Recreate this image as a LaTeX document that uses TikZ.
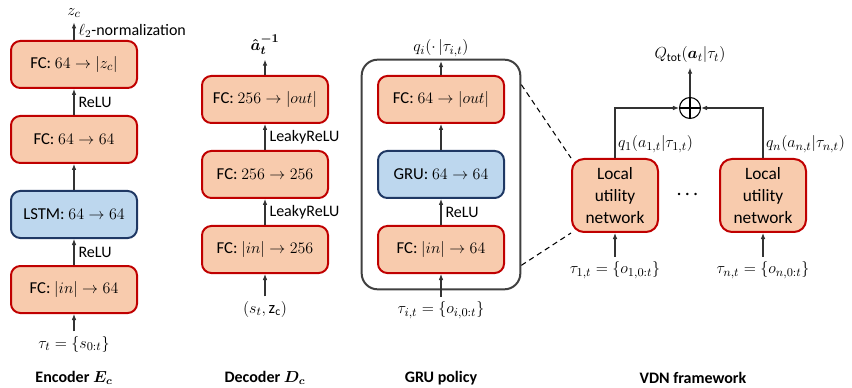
\documentclass[tikz,border=0pt]{standalone}
\usepackage{amsmath,amssymb}
\usepackage{fontspec}
\setmainfont{Carlito}
\usetikzlibrary{positioning,arrows.meta,fit}
\definecolor{FcFill}{HTML}{F8CBAD}
\definecolor{FcLine}{HTML}{C00000}
\definecolor{RnnFill}{HTML}{BDD7EE}
\definecolor{RnnLine}{HTML}{1F3864}
\definecolor{FrameGray}{HTML}{404040}
\tikzset{
  fcbox/.style={draw=FcLine, fill=FcFill, line width=1.5pt, rounded corners=7pt,
    minimum width=94.5pt, minimum height=35.25pt, align=center},
  rnnbox/.style={fcbox, draw=RnnLine, fill=RnnFill},
  localbox/.style={fcbox, minimum width=64.5pt, minimum height=54.75pt,
    rounded corners=9pt, font=\fontsize{13}{16.5}\selectfont},
  arr/.style={-{Latex[length=4.5pt,width=3.5pt]}, draw=black!80, line width=0.8pt},
  lbl/.style={font=\fontsize{12}{14}\selectfont, inner sep=3pt},
  caption/.style={font=\fontsize{12}{14}\selectfont\bfseries},
}

\begin{document}
\begin{tikzpicture}[x=0.75pt, y=-0.75pt, font=\fontsize{12.5}{15}\selectfont, node distance=19.5pt]
  \useasboundingbox (0,0) rectangle (852,388);

  % encoder
  \node[fcbox] (enc1) at (74,289.5) {FC: $|in| \to 64$};
  \node[rnnbox, above=of enc1] (enc2) {LSTM: $64 \to 64$};
  \node[fcbox, above=of enc2] (enc3) {FC: $64 \to 64$};
  \node[fcbox, above=of enc3] (enc4) {FC: $64 \to |z_c|$};
  \node (encin) at (74,344) {$\tau_t = \{s_{0:t}\}$};
  \node (zc) at (74,13) {$z_c$};
  \draw[arr] (encin) -- (enc1);
  \draw[arr] (enc1) -- node[lbl, right] {ReLU} (enc2);
  \draw[arr] (enc2) -- (enc3);
  \draw[arr] (enc3) -- node[lbl, right] {ReLU} (enc4);
  \draw[arr] (enc4) -- node[lbl, right] {$\ell_2$-normalization} (zc);
  \node[caption] at (74,378) {Encoder $\boldsymbol{E_c}$};

  % decoder
  \node[fcbox] (dec1) at (265,249.5) {FC: $|in| \to 256$};
  \node[fcbox, above=of dec1] (dec2) {FC: $256 \to 256$};
  \node[fcbox, above=of dec2] (dec3) {FC: $256 \to |out|$};
  \node (decin) at (265,309) {$(s_t, \mathrm{z_c})$};
  \node (ahat) at (265,45) {$\boldsymbol{\hat{a}_t^{-1}}$};
  \draw[arr] (decin) -- (dec1);
  \draw[arr] (dec1) -- node[lbl, right] {LeakyReLU} (dec2);
  \draw[arr] (dec2) -- node[lbl, right] {LeakyReLU} (dec3);
  \draw[arr] (dec3) -- (ahat);
  \node[caption] at (265,378) {Decoder $\boldsymbol{D_c}$};

  % gru policy
  \node[fcbox] (gru1) at (441,249.5) {FC: $|in| \to 64$};
  \node[rnnbox, above=of gru1] (gru2) {GRU: $64 \to 64$};
  \node[fcbox, above=of gru2] (gru3) {FC: $64 \to |out|$};
  \node[draw=FrameGray, line width=1.5pt, rounded corners=12pt, inner sep=11.5pt,
        fit=(gru1)(gru3)] (policy) {};
  \node (gruin) at (441,310) {$\tau_{i,t} = \{o_{i,0:t}\}$};
  \node (qi) at (441,48) {$q_i(\cdot\,|\tau_{i,t})$};
  \draw[arr] (gruin) -- (gru1);
  \draw[arr] (gru1) -- node[lbl, right] {ReLU} (gru2);
  \draw[arr] (gru2) -- (gru3);
  \draw[arr] (gru3) -- (qi);
  \node[caption] at (441,378) {GRU policy};

  % vdn
  \node[localbox] (local1) at (615,195.5) {Local\\utility\\network};
  \node[localbox] (localn) at (763,195.5) {Local\\utility\\network};
  \node (dots) at (689,195) {$\boldsymbol{\cdots}$};
  \node[circle, draw=black, line width=0.8pt, minimum size=15.75pt, inner sep=0pt] (sum) at (690,108) {};
  \draw[line width=0.8pt] (sum.north) -- (sum.south) (sum.west) -- (sum.east);
  \node (qtot) at (690,55) {$Q_{\mathrm{tot}}(\boldsymbol{a}_t|\tau_t)$};
  \node (in1) at (615,270) {$\tau_{1,t} = \{o_{1,0:t}\}$};
  \node (inn) at (763,270) {$\tau_{n,t} = \{o_{n,0:t}\}$};
  \draw[arr] (in1) -- (local1);
  \draw[arr] (inn) -- (localn);
  \draw[arr] (local1.north) |- node[pos=0.14, right, inner sep=2pt] {$q_1(a_{1,t}|\tau_{1,t})$} (sum.west);
  \draw[arr] (localn.north) |- node[pos=0.14, right, inner sep=2pt] {$q_n(a_{n,t}|\tau_{n,t})$} (sum.east);
  \draw[arr] (sum) -- (qtot);
  \draw[dashed, dash pattern=on 4pt off 3pt, line width=0.8pt]
    ([yshift=-19.5pt]policy.north east) -- (local1.north west);
  \draw[dashed, dash pattern=on 4pt off 3pt, line width=0.8pt]
    ([yshift=18.75pt]policy.south east) -- (local1.south west);
  \node[caption] at (693,378) {VDN framework};
\end{tikzpicture}
\end{document}
